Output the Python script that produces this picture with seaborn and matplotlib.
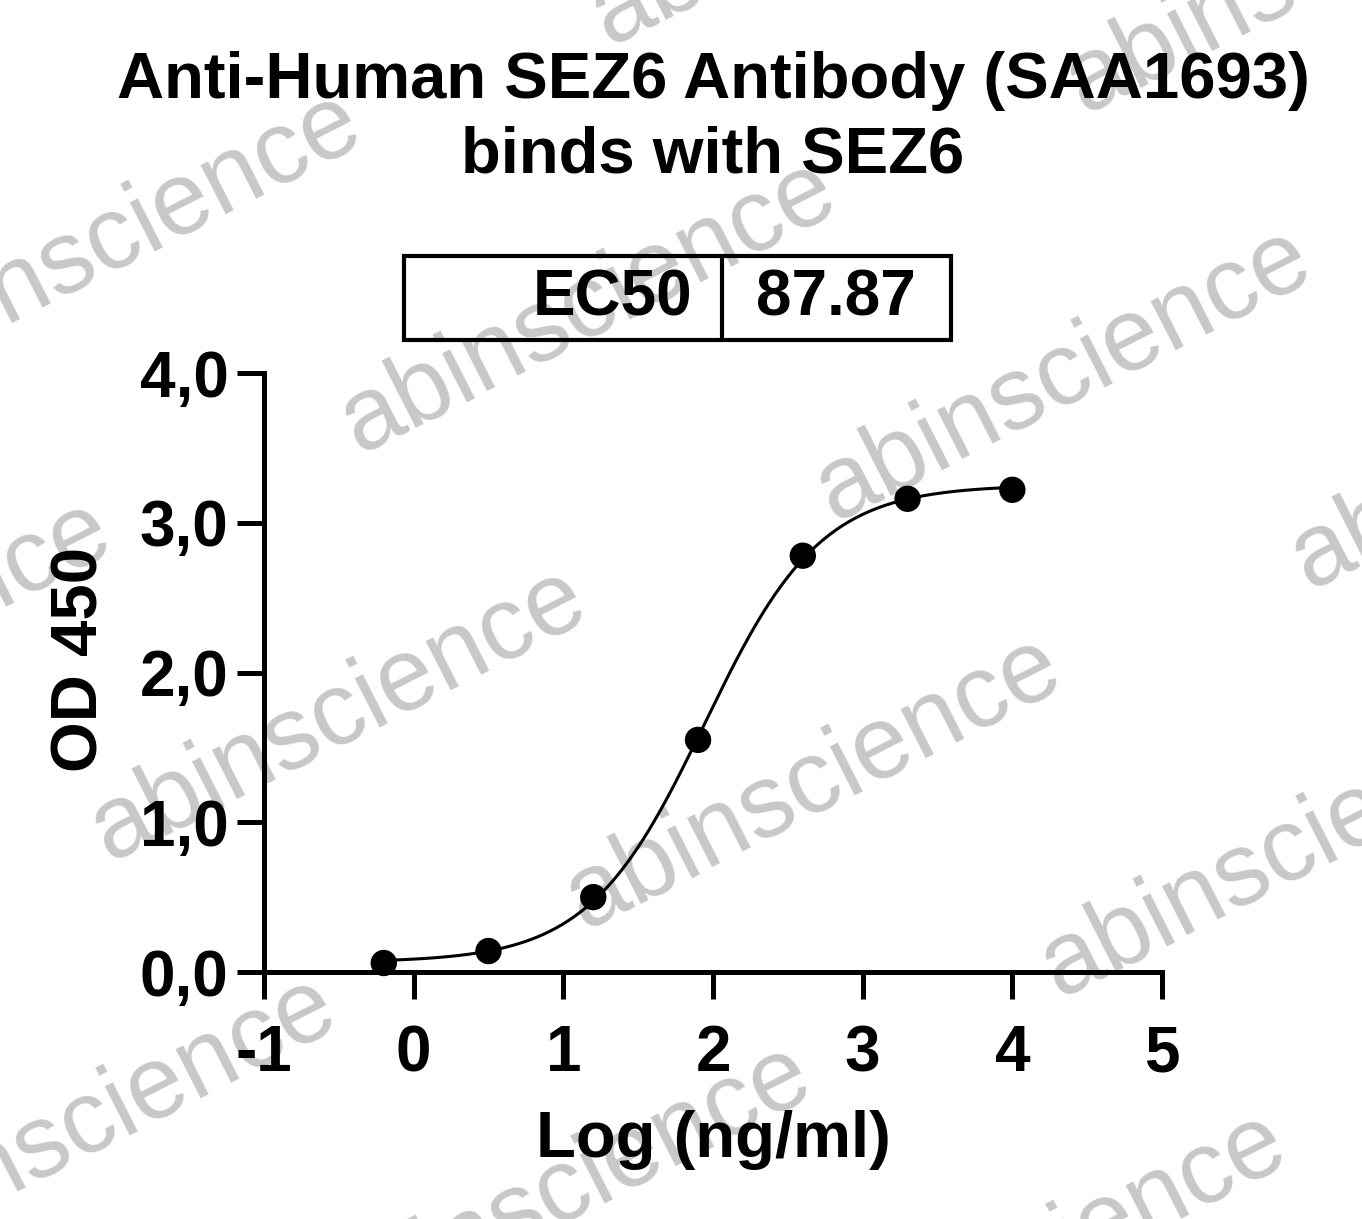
import numpy as np
import pandas as pd
import matplotlib
matplotlib.use("Agg")
import matplotlib.pyplot as plt
import seaborn as sns
from matplotlib.patches import Rectangle
from matplotlib.lines import Line2D

# data
log_conc = [-0.2, 0.5, 1.2, 1.9, 2.6, 3.3, 4.0]
od450 = [0.06, 0.14, 0.50, 1.55, 2.78, 3.16, 3.22]
ec50 = 87.87
x_ticks = [-1, 0, 1, 2, 3, 4, 5]
y_ticks = [0, 1, 2, 3, 4]
y_tick_labels = ["0,0", "1,0", "2,0", "3,0", "4,0"]
title = "Anti-Human SEZ6 Antibody (SAA1693)\nbinds with SEZ6"
watermark = "abinscience"

W, H = 1362, 1219


def fx(px):
    return px / W


def fy(py):
    return 1 - py / H


def fit_4pl(x, y, log_ec50):
    """Least squares 4PL fit with the EC50 fixed to the reported value."""
    x = np.asarray(x)
    y = np.asarray(y)
    best = None
    for h in np.arange(0.5, 2.5, 0.005):
        f = 1 / (1 + 10 ** ((log_ec50 - x) * h))
        A = np.column_stack([1 - f, f])
        coef = np.linalg.lstsq(A, y, rcond=None)[0]
        sse = np.sum((A @ coef - y) ** 2)
        if best is None or sse < best[0]:
            best = (sse, coef[0], coef[1], h)
    return best[1], best[2], best[3]


log_ec50 = np.log10(ec50)
bottom, top, hill = fit_4pl(log_conc, od450, log_ec50)
x_fit = np.linspace(min(log_conc), max(log_conc), 300)
y_fit = bottom + (top - bottom) / (1 + 10 ** ((log_ec50 - x_fit) * hill))

points = pd.DataFrame({"log_conc": log_conc, "od450": od450})
curve = pd.DataFrame({"log_conc": x_fit, "od450": y_fit})

sns.set_style("ticks")
plt.rcParams["font.family"] = ["Liberation Sans", "DejaVu Sans"]
plt.rcParams["font.weight"] = "bold"
plt.rcParams["text.color"] = "black"
plt.rcParams["axes.edgecolor"] = "black"
plt.rcParams["xtick.color"] = "black"
plt.rcParams["ytick.color"] = "black"
plt.rcParams["axes.unicode_minus"] = False

fig = plt.figure(figsize=(W / 100, H / 100), dpi=100)

# watermark grid
origin = np.array([588, 307])
u = np.array([475, 68])
v = np.array([-250, 408])
for i in range(-3, 4):
    for j in range(-3, 4):
        cx, cy = origin + i * u + j * v
        if -400 < cx < W + 400 and -300 < cy < H + 300:
            fig.text(fx(cx), fy(cy), watermark, fontsize=74, fontweight="normal",
                     color="#c8c8c8", rotation=27, rotation_mode="anchor",
                     ha="center", va="center", zorder=-1)

ax = fig.add_axes([fx(264), fy(972), fx(1162) - fx(264), fy(373) - fy(972)])
ax.patch.set_alpha(0)

sns.lineplot(data=curve, x="log_conc", y="od450", color="black", linewidth=2.2, ax=ax)
sns.scatterplot(data=points, x="log_conc", y="od450", color="black", s=360,
                edgecolor="none", ax=ax, zorder=5, clip_on=False)

ax.set_xlim(-1, 5)
ax.set_ylim(0, 4)
ax.set_xticks(x_ticks)
ax.set_yticks(y_ticks)
ax.set_yticklabels(y_tick_labels)
ax.set_xlabel("")
ax.set_ylabel("")
sns.despine(ax=ax)
for side in ["left", "bottom"]:
    ax.spines[side].set_linewidth(3.6)
ax.tick_params(axis="both", length=19.5, width=3.6, labelsize=46, colors="black")
ax.tick_params(axis="x", pad=18)
ax.tick_params(axis="y", pad=6)

fig.text(fx(80), fy(660), "OD 450", fontsize=47, fontweight="bold",
         rotation=90, ha="center", va="center")
fig.text(fx(713), fy(1140), "Log (ng/ml)", fontsize=47, fontweight="bold",
         ha="center", va="center")
fig.text(fx(713), fy(118), title, fontsize=47, fontweight="bold",
         ha="center", va="center", linespacing=1.3)

# EC50 box
fig.add_artist(Rectangle((fx(404), fy(340)), fx(951) - fx(404), fy(256) - fy(340),
                         transform=fig.transFigure, fill=False, lw=3, color="black"))
fig.add_artist(Line2D([fx(722), fx(722)], [fy(340), fy(256)],
                      transform=fig.transFigure, lw=3, color="black"))
fig.text(fx(692), fy(298), "EC50", fontsize=46, fontweight="bold", ha="right", va="center")
fig.text(fx(836), fy(298), f"{ec50:.2f}", fontsize=46, fontweight="bold", ha="center", va="center")

fig.savefig("out.png", dpi=100)
